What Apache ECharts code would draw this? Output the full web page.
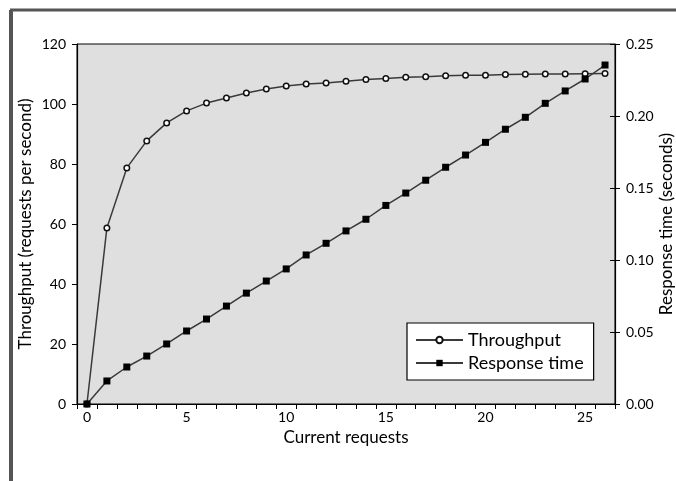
<!DOCTYPE html>
<html>
<head>
<meta charset="utf-8">
<script src="https://cdn.jsdelivr.net/npm/echarts@6/dist/echarts.min.js"></script>
<style>
  html, body { margin: 0; padding: 0; background: #fff; }
  #chart { width: 676px; height: 481px; }
</style>
</head>
<body>
<div id="chart"></div>
<script>
  // concurrent requests (category axis, ticks between categories)
  var requests = [0, 1, 2, 3, 4, 5, 6, 7, 8, 9, 10, 11, 12, 13, 14, 15, 16, 17, 18, 19, 20, 21, 22, 23, 24, 25, 26];

  // requests per second
  var throughput = [0, 58.7, 78.7, 87.7, 93.7, 97.7, 100.3, 102, 103.7, 105, 106, 106.7, 107, 107.6, 108.2, 108.5,
    108.9, 109.1, 109.4, 109.6, 109.6, 109.8, 109.9, 110, 110, 110.1, 110.2];

  // seconds
  var responseTime = [0, 0.016, 0.0257, 0.0333, 0.0417, 0.0507, 0.059, 0.068, 0.077, 0.0854, 0.0938, 0.1035,
    0.1116, 0.1202, 0.1283, 0.1379, 0.1465, 0.1554, 0.1644, 0.1729, 0.1817, 0.1908, 0.1991, 0.2088, 0.2174,
    0.2257, 0.2354];

  var leftTicks = { min: 0, max: 120, interval: 20 };
  var rightTicks = { min: 0, max: 0.25, interval: 0.05 };

  var font = 'Lato, "Open Sans", sans-serif';

  var myChart = echarts.init(document.getElementById('chart'));

  var option = {
    backgroundColor: '#fff',
    animation: false,
    textStyle: { fontFamily: font, color: '#000' },

    // outer frame (top + left edge of the original page scan)
    graphic: [
      { type: 'line', shape: { x1: 10, y1: 10, x2: 676, y2: 10 }, style: { stroke: '#555', lineWidth: 3 } },
      { type: 'line', shape: { x1: 11, y1: 10, x2: 11, y2: 481 }, style: { stroke: '#555', lineWidth: 4 } }
    ],

    grid: {
      left: 77,
      right: 61,
      top: 44,
      bottom: 77,
      outerBoundsMode: 'none',
      show: true,
      backgroundColor: '#dfdfdf',
      borderColor: '#000',
      borderWidth: 1
    },

    legend: {
      orient: 'vertical',
      left: 407,
      top: 323,
      padding: [8, 10, 8, 8],
      itemGap: 5,
      itemWidth: 47,
      itemHeight: 8,
      backgroundColor: '#fff',
      borderColor: '#000',
      borderWidth: 1.2,
      textStyle: { fontFamily: font, fontSize: 18, color: '#000' },
      data: ['Throughput', 'Response time']
    },

    xAxis: [{
      type: 'category',
      data: requests,
      boundaryGap: true,
      name: 'Current requests',
      nameLocation: 'middle',
      nameGap: 22,
      nameTextStyle: { fontFamily: font, fontSize: 17, color: '#000' },
      axisLine: { lineStyle: { color: '#000', width: 1.2 } },
      axisTick: { show: true, interval: 0, length: 5, lineStyle: { color: '#000' } },
      axisLabel: { interval: 4, margin: 6, fontFamily: font, fontSize: 14, color: '#000' },
      splitLine: { show: false }
    }],

    yAxis: [
      {
        type: 'value',
        position: 'left',
        min: leftTicks.min,
        max: leftTicks.max,
        interval: leftTicks.interval,
        name: 'Throughput (requests per second)',
        nameLocation: 'middle',
        nameRotate: 90,
        nameMoveOverlap: false,
        nameGap: 43,
        nameTextStyle: { fontFamily: font, fontSize: 17, color: '#000' },
        axisLine: { show: true, lineStyle: { color: '#000', width: 1.2 } },
        axisTick: { show: true, length: 5, lineStyle: { color: '#000' } },
        axisLabel: { margin: 11, fontFamily: font, fontSize: 14, color: '#000' },
        splitLine: { show: false }
      },
      {
        type: 'value',
        position: 'right',
        min: rightTicks.min,
        max: rightTicks.max,
        interval: rightTicks.interval,
        name: 'Response time (seconds)',
        nameLocation: 'middle',
        nameRotate: 90,
        nameMoveOverlap: false,
        nameGap: 43,
        nameTextStyle: { fontFamily: font, fontSize: 17, color: '#000' },
        axisLine: { show: true, lineStyle: { color: '#000', width: 1.2 } },
        axisTick: { show: true, length: 5, lineStyle: { color: '#000' } },
        axisLabel: {
          margin: 11, fontFamily: font, fontSize: 14, color: '#000',
          formatter: function (v) { return v.toFixed(2); }
        },
        splitLine: { show: false }
      },
      // inner half of the crossing ticks on the right axis
      {
        type: 'value',
        position: 'right',
        min: rightTicks.min,
        max: rightTicks.max,
        interval: rightTicks.interval,
        axisLine: { show: false },
        axisTick: { show: true, inside: true, length: 5, lineStyle: { color: '#000' } },
        axisLabel: { show: false },
        splitLine: { show: false }
      }
    ],

    series: [
      {
        name: 'Throughput',
        type: 'line',
        yAxisIndex: 0,
        data: throughput,
        symbol: 'circle',
        symbolSize: 5.5,
        lineStyle: { color: '#3a3a3a', width: 1.5 },
        itemStyle: { color: '#fff', borderColor: '#111', borderWidth: 1.5 }
      },
      {
        name: 'Response time',
        type: 'line',
        yAxisIndex: 1,
        data: responseTime,
        symbol: 'rect',
        symbolSize: 7,
        lineStyle: { color: '#3a3a3a', width: 1.5 },
        itemStyle: { color: '#000', borderColor: '#000', borderWidth: 0 }
      }
    ]
  };

  myChart.setOption(option);
</script>
</body>
</html>
